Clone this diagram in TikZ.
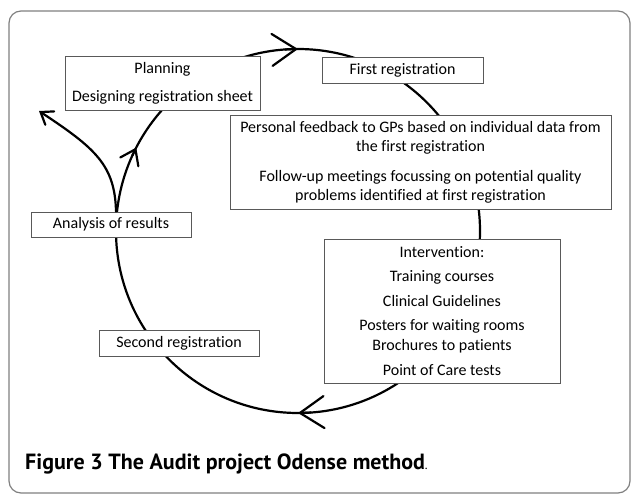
\documentclass[tikz,border=0pt]{standalone}
\usepackage{fontspec}
\setmainfont{Carlito}[Ligatures=NoCommon]
\newfontfamily\capfont{PT Sans}
\usetikzlibrary{arrows.meta,calc}
\newcommand{\boxfont}{\fontsize{16bp}{19bp}\selectfont}
\begin{document}
\begin{tikzpicture}[x=1bp,y=-1bp,
  box/.style={draw=black!65, line width=0.9bp, fill=white, align=center, inner sep=0pt, font=\boxfont},
  loopline/.style={line width=2.2bp, black, line cap=round},
  bigbarb/.style={loopline, -{Straight Barb[length=24bp,width=32bp,line cap=round]}},
  smallbarb/.style={loopline, -{Straight Barb[length=14bp,width=20bp,line cap=round]}},
  tinybarb/.style={loopline, -{Straight Barb[length=11bp,width=16bp,line cap=round]}},
  frame/.style={draw=black!50, line width=1.2bp, rounded corners=12bp}]
\useasboundingbox (0,0) rectangle (636,499);
\draw[frame] (9,11) rectangle (630,493);
% cycle
\coordinate (c) at (298,231);
\draw[loopline] (c) circle[radius=182];
\draw[bigbarb] ($(c)+(266:182)$) -- ($(c)+(270:182)$);
\draw[bigbarb] ($(c)+(86:182)$) -- ($(c)+(90:182)$);
\draw[smallbarb] ($(c)+(204.5:182)$) -- ($(c)+(207.3:182)$);
% boxes
\node[box, minimum width=195bp, minimum height=54bp] (plan) at (162.5,83) {Planning\\[9bp]Designing registration sheet};
\node[box, minimum width=161bp, minimum height=26bp] (first) at (402.5,70) {First registration};
\node[box, minimum width=381bp, minimum height=94bp] (feed) at (420.5,162) {Personal feedback to GPs based on individual data from\\the first registration\\[11bp]Follow-up meetings focussing on potential quality\\problems identified at first registration};
\node[box, minimum width=236bp, minimum height=144bp] (interv) at (442,311) {Intervention:\\[5.5bp]Training courses\\[5.5bp]Clinical Guidelines\\[5.5bp]Posters for waiting rooms\\[1bp]Brochures to patients\\[5.5bp]Point of Care tests};
\node[box, minimum width=160bp, minimum height=25bp] (anal) at (111,224.5) {Analysis of results};
\node[box, minimum width=160bp, minimum height=26bp] (second) at (179,343) {Second registration};
% branch out of the cycle
\coordinate (split) at ($(anal.north)+(5,0)$);
\coordinate (out) at (39,111);
\draw[tinybarb] (split) .. controls (115,165) and (95,148) .. (out);
% caption
\node[anchor=west, inner sep=0pt, font=\capfont\bfseries\fontsize{22bp}{25bp}\selectfont] (cap) at (25,464) {Figure 3 The Audit project Odense method{\mdseries\fontsize{13bp}{15bp}\selectfont.}};
\end{tikzpicture}
\end{document}
